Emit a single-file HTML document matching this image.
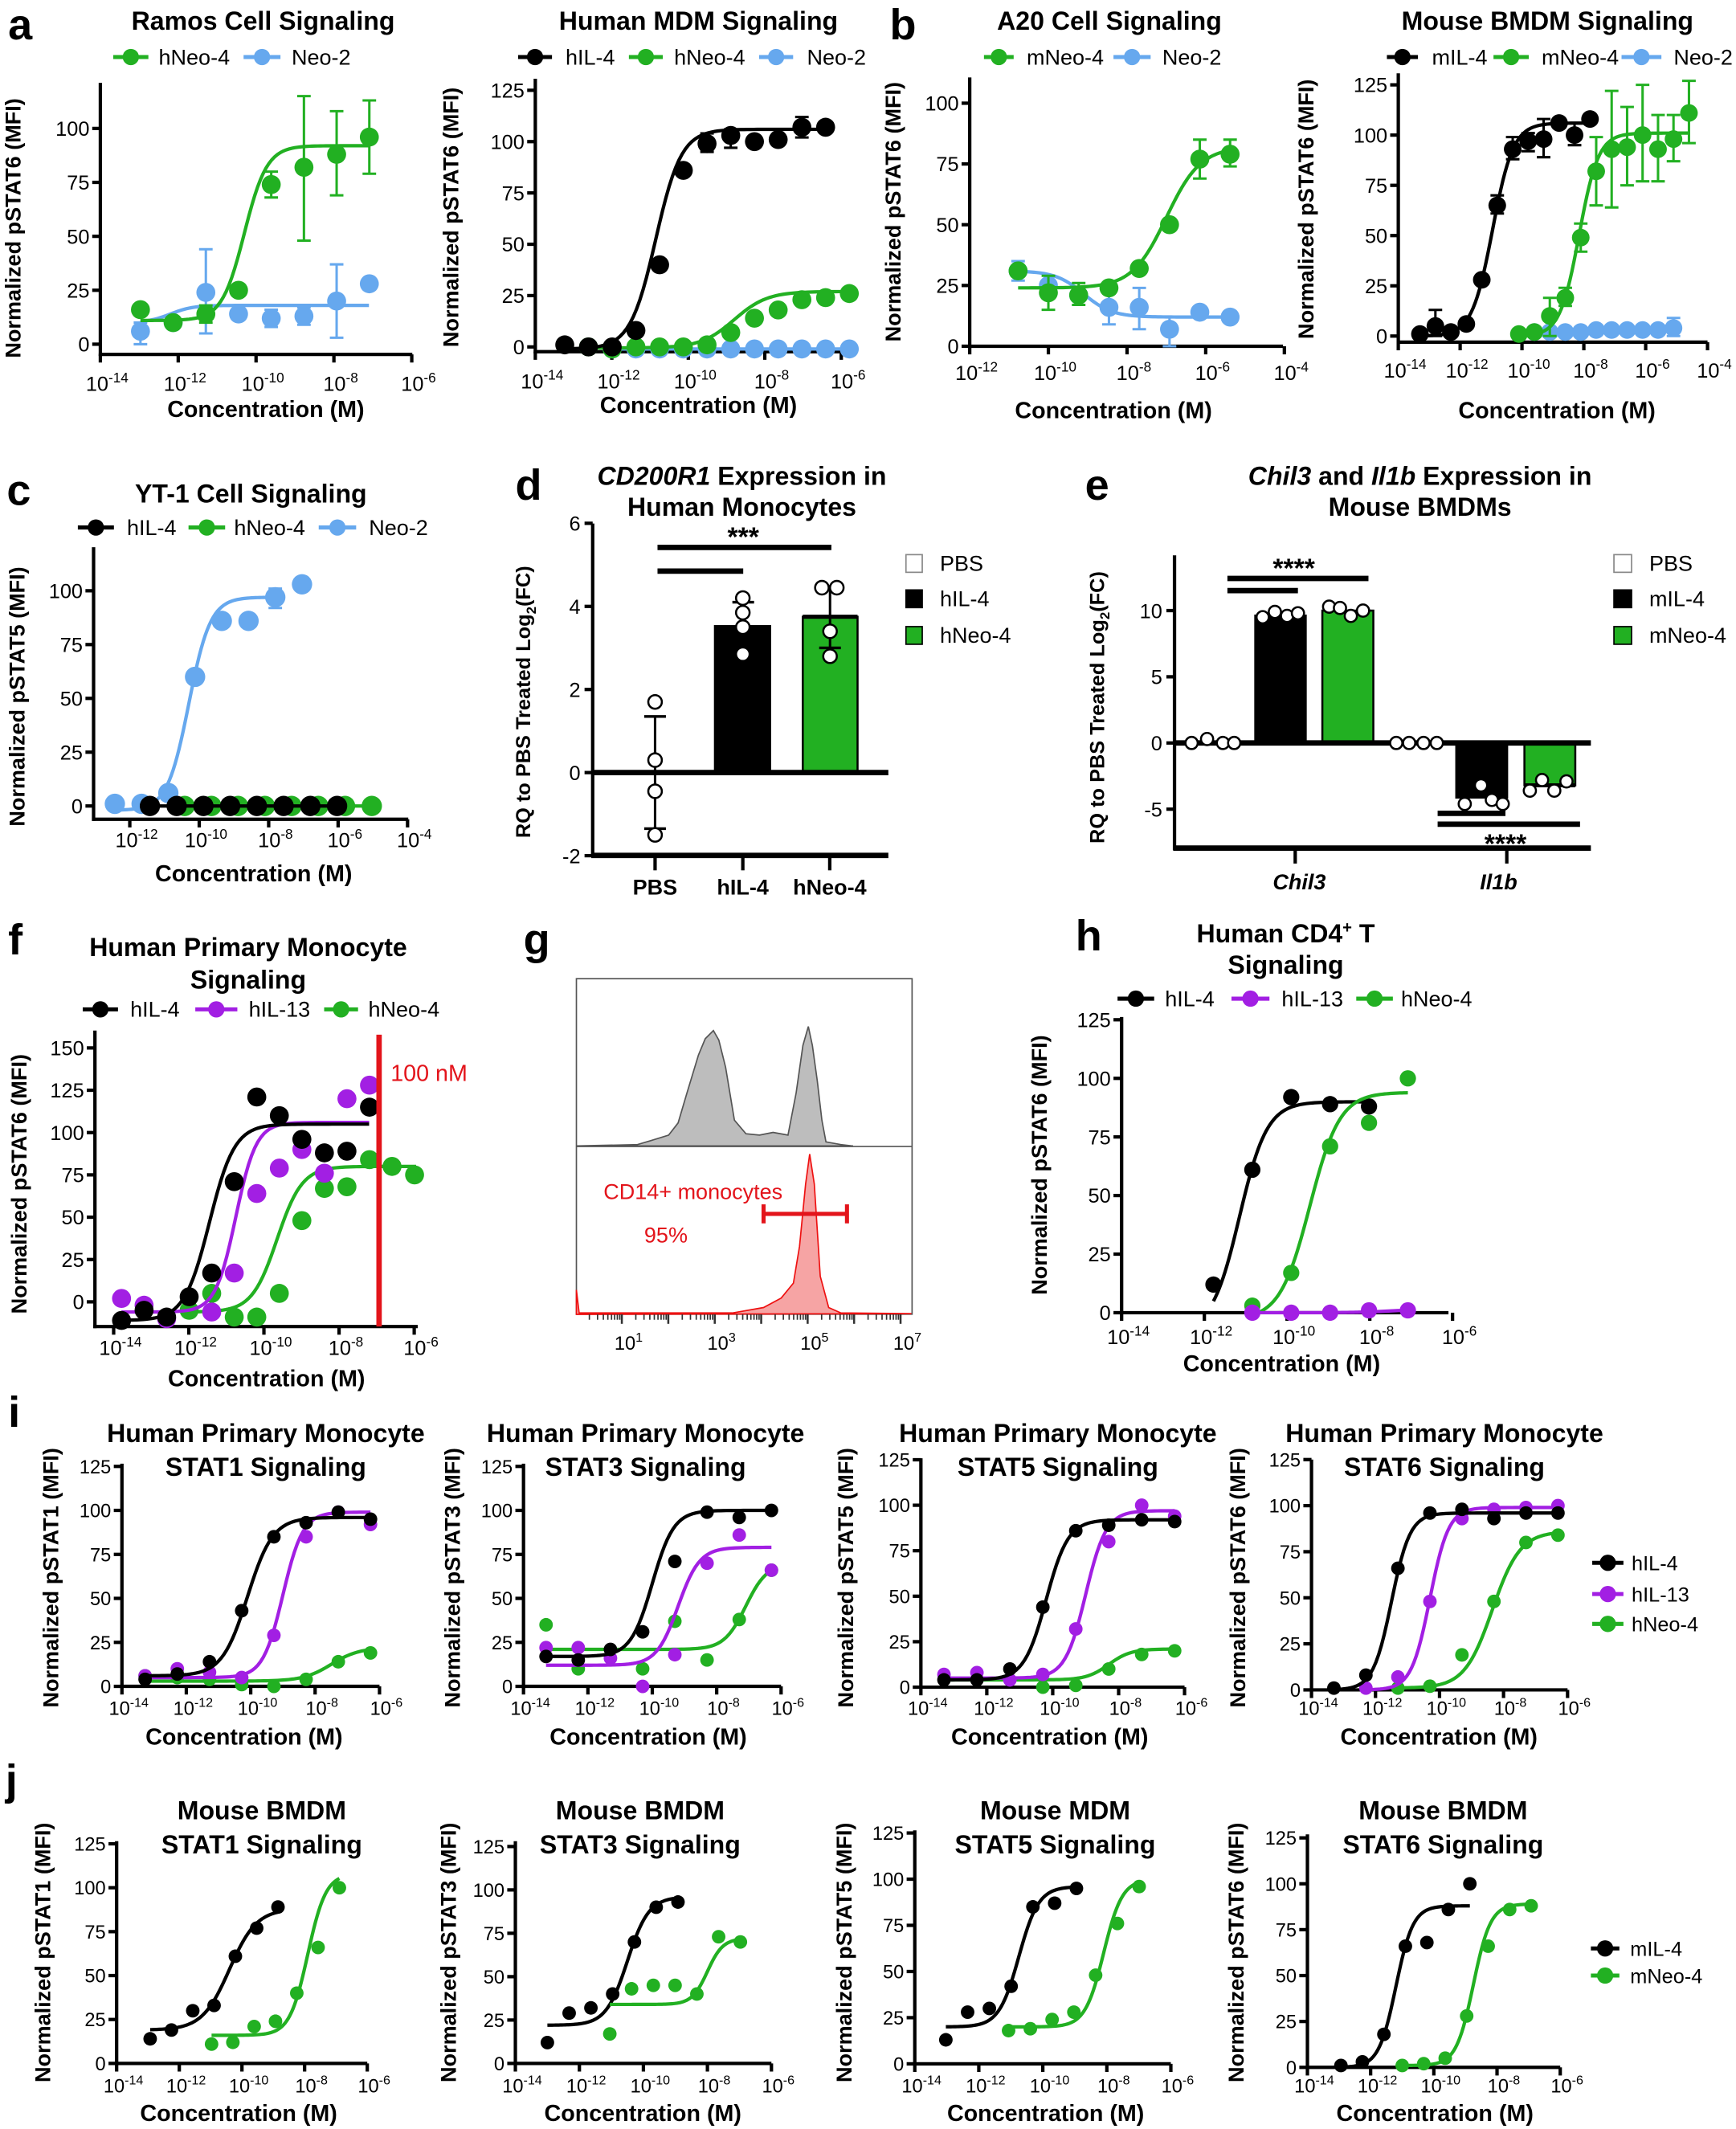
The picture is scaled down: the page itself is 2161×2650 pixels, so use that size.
<!DOCTYPE html>
<html><head><meta charset="utf-8">
<style>html,body{margin:0;padding:0;background:#fff}svg{display:block}text{font-family:"Liberation Sans",Arial,sans-serif}</style>
</head><body>
<svg id="s" xmlns="http://www.w3.org/2000/svg" width="2161" height="2650" viewBox="0 0 1280 1568" preserveAspectRatio="none">
<rect x="0" y="0" width="1280" height="1568" fill="#fff"/>
<g font-weight="bold" font-size="32">
<text x="6" y="29">a</text><text x="656" y="29">b</text><text x="5" y="372">c</text><text x="380" y="368">d</text><text x="800" y="368">e</text><text x="6" y="703">f</text><text x="386" y="703">g</text><text x="793" y="700">h</text><text x="6" y="1051">i</text><text x="4" y="1322">j</text>
</g>
</svg>
<script>
const NS='http://www.w3.org/2000/svg',S=document.getElementById('s');
const G='#22b022',B='#66a8ee',P='#a21fe3',K='#000',R='#e3141b';
function el(t,a,p,tx){const e=document.createElementNS(NS,t);for(const k in a)e.setAttribute(k,a[k]);if(tx!=null)e.textContent=tx;(p||S).appendChild(e);return e;}
function T(x,y,s,o){o=o||{};return el('text',{x:x,y:y,'font-size':o.fs||15,'font-weight':o.b?'bold':'normal','font-style':o.i?'italic':'normal','text-anchor':o.a||'middle',fill:o.c||K},null,s);}
function L(x1,y1,x2,y2,c,w){return el('line',{x1:x1,y1:y1,x2:x2,y2:y2,stroke:c||K,'stroke-width':w||2.5});}
function C(x,y,r,f,st){return el('circle',{cx:x,cy:y,r:r,fill:f,stroke:st||'none','stroke-width':1.5});}
function SUP(x,y,b,e,fs){const t=el('text',{x:x,y:y,'font-size':fs,'text-anchor':'middle'});el('tspan',{},t,b);el('tspan',{dy:-fs*0.42,'font-size':fs*0.68},t,e);return t;}
function YL(x,y,s,fs){const t=el('text',{x:x,y:y,'font-size':fs||16,'font-weight':'bold','text-anchor':'middle',transform:'rotate(-90 '+x+' '+y+')'},null,s);return t;}
function LEG(x1,x2,y,c,lab,tx,fs){L(x1,y,x2,y,c,3);C((x1+x2)/2,y,6,c);T(tx,y+5.5,lab,{fs:fs||16,a:'start'});}
function sig(c,e){return c[0]+(c[1]-c[0])/(1+Math.pow(10,(c[2]-e)*c[3]));}
function plot(p){
 const X=e=>p.X0+(e-p.E0)*p.D,Y=v=>p.Y0-v*p.S;const fs=p.fs||15;
 L(p.ax,p.top,p.ax,p.ay+1.2);L(p.ax-1.2,p.ay,p.right,p.ay);
 for(const e of p.xt){L(X(e),p.ay,X(e),p.ay+6);SUP(X(e)+5,p.tly,'10',String(e),fs);}
 for(const v of p.yt){L(p.ax-6,Y(v),p.ax,Y(v));T(p.ax-8,Y(v)+fs*0.36,String(v),{fs:fs,a:'end'});}
 for(const s of p.ser){
  if(s.cv){let d='';const e1=s.cr[0],e2=s.cr[1];for(let i=0;i<=80;i++){const e=e1+(e2-e1)*i/80;d+=(i?'L':'M')+X(e).toFixed(2)+','+Y(sig(s.cv,e)).toFixed(2);}el('path',{d:d,fill:'none',stroke:s.c,'stroke-width':2.5});}
  s.v.forEach((v,k)=>{if(v==null)return;const e=s.L0+s.dL*(k+(s.k0||0));const x=X(e);
   if(s.err&&s.err[k]){const lo=Y(s.err[k][0]),hi=Y(s.err[k][1]);L(x,lo,x,hi,s.c,1.8);L(x-5,lo,x+5,lo,s.c,1.8);L(x-5,hi,x+5,hi,s.c,1.8);}
   C(x,Y(v),p.r||6,s.c);});
 }
}
const xt14=[-14,-12,-10,-8,-6],y100=[0,25,50,75,100],y125=[0,25,50,75,100,125];
/* a1 Ramos */
T(194,22,'Ramos Cell Signaling',{fs:19,b:1});
LEG(83.5,109.4,42,G,'hNeo-4',117);LEG(179.6,206.8,42,B,'Neo-2',215);
YL(15,168,'Normalized  pSTAT6 (MFI)');T(196,307,'Concentration (M)',{fs:17,b:1});
plot({ax:74,ay:261,top:61,right:304,X0:74,E0:-14,D:28.7,Y0:253.5,S:1.589,xt:xt14,yt:y100,tly:288,r:7,ser:[
 {c:B,cv:[10,18,-12.2,1.5],cr:[-12.97,-7.1],L0:-12.97,dL:0.84,v:[6,10,24,14,12,13,20,28],err:{0:[0,10],2:[5,44],4:[8,16],5:[9,17],6:[3,37]}},
 {c:G,cv:[11,92,-10.3,1.5],cr:[-12.97,-7.1],L0:-12.97,dL:0.84,v:[16,10,14,25,74,82,88,96],err:{2:[10,18],4:[68,80],5:[48,115],6:[69,108],7:[79,113]}}]});
/* a2 MDM */
T(515,22,'Human MDM Signaling',{fs:19,b:1});
LEG(382,407,42,K,'hIL-4',417);LEG(463.7,488.7,42,G,'hNeo-4',497);LEG(559.7,584.8,42,B,'Neo-2',595);
YL(338,160,'Normalized  pSTAT6 (MFI)');T(515,304,'Concentration (M)',{fs:17,b:1});
plot({ax:394.7,ay:259,top:58,right:625,X0:394.7,E0:-14,D:28.2,Y0:255.5,S:1.512,xt:xt14,yt:y125,tly:286,r:7,ser:[
 {c:B,cv:[-1,-1,0,1],cr:[-12,-6.0],L0:-13.23,dL:0.62,k0:2,v:[-1,-1,-1,-1,-1,-1,-1,-1,-1,-1,-1]},
 {c:G,cv:[-0.5,27,-8.8,1.0],cr:[-12.6,-5.97],L0:-13.23,dL:0.62,k0:1,v:[0,-1,0,0,0,1,7,14,18,23,24,26]},
 {c:K,cv:[-1,106,-10.85,1.3],cr:[-13.23,-6.41],L0:-13.23,dL:0.62,v:[1,0,0,8,40,86,99,103,100,101,107,107],err:{6:[95,104],7:[97,106],10:[102,112]}}]});
/* b1 A20 */
T(818,22,'A20 Cell Signaling',{fs:19,b:1});
LEG(725.5,747.4,42,G,'mNeo-4',757);LEG(821,848.4,42,B,'Neo-2',857);
YL(664,156,'Normalized  pSTAT6 (MFI)');T(821,308,'Concentration (M)',{fs:17,b:1});
plot({ax:715,ay:255,top:57,right:946,X0:715,E0:-12,D:29,Y0:255,S:1.79,xt:[-12,-10,-8,-6,-4],yt:y100,tly:280,r:7,ser:[
 {c:B,cv:[31,12,-9.1,1.2],cr:[-10.77,-5.4],L0:-10.77,dL:0.77,v:[31,25,21,16,16,7,14,12],err:{0:[27,35],3:[9,24],4:[7,24],5:[0,12]}},
 {c:G,cv:[24,82,-7.0,1.0],cr:[-10.77,-5.4],L0:-10.77,dL:0.77,v:[31,22,21,24,32,50,77,79],err:{1:[15,29],2:[17,26],6:[69,85],7:[74,85]}}]});
/* b2 Mouse BMDM */
T(1141,22,'Mouse BMDM Signaling',{fs:19,b:1});
LEG(1022.6,1045.5,42,K,'mIL-4',1055.8);LEG(1101.2,1127.2,42,G,'mNeo-4',1136.7);LEG(1195.6,1225,42,B,'Neo-2',1234);
YL(968.5,154,'Normalized  pSTAT6 (MFI)');T(1148,308,'Concentration (M)',{fs:17,b:1});
plot({ax:1031,ay:252,top:54,right:1259,X0:1031,E0:-14,D:22.8,Y0:247.5,S:1.48,xt:[-14,-12,-10,-8,-6,-4],yt:y125,tly:278,r:6.5,ser:[
 {c:B,cv:[2,3,-7,1],cr:[-9.6,-5.1],L0:-9.6,dL:0.5,v:[2,2,2,2,3,3,3,3,3,4],err:{9:[0,9]}},
 {c:G,cv:[0,101,-8.15,1.4],cr:[-10.1,-4.6],L0:-10.1,dL:0.5,v:[1,2,10,19,49,82,93,94,100,93,98,111],err:{2:[0,19],3:[15,24],4:[42,56],5:[65,99],6:[64,122],7:[75,114],8:[77,125],9:[77,110],10:[87,110],11:[96,127]}},
 {c:K,cv:[0,106,-10.95,1.3],cr:[-13.3,-7.8],L0:-13.3,dL:0.5,v:[1,5,2,6,28,65,93,97,98,106,100,108],err:{1:[0,13],5:[61,70],6:[88,99],7:[92,101],8:[89,108],10:[95,106]}}]});
/* c YT-1 */
T(185,370,'YT-1 Cell Signaling',{fs:19,b:1});
LEG(57.4,84,388.5,K,'hIL-4',93.6);LEG(139,166,388.5,G,'hNeo-4',172.6);LEG(235,262.6,388.5,B,'Neo-2',272);
YL(18,513,'Normalized pSTAT5 (MFI)');T(187,649,'Concentration (M)',{fs:17,b:1});
plot({ax:69,ay:603.4,top:403,right:301,X0:95.7,E0:-12,D:25.6,Y0:593.6,S:1.585,xt:[-12,-10,-8,-6,-4],yt:y100,tly:624,r:7.5,ser:[
 {c:B,cv:[-2,97,-10.3,1.4],cr:[-12.43,-7.8],L0:-12.43,dL:0.77,v:[1,1,6,60,86,86,97,103],err:{6:[92,101]}},
 {c:G,cv:[0,0,0,1],cr:[-10.42,-5.0],L0:-10.42,dL:0.77,v:[0,0,0,0,0,0,0,0]},
 {c:K,cv:[0,0,0,1],cr:[-11.42,-6.0],L0:-11.42,dL:0.77,v:[0,0,0,0,0,0,0,0]}]});
/* d */
(function(){const Y=v=>569-v*30.6;
 const t=el('text',{x:547,y:357,'font-size':19,'font-weight':'bold','text-anchor':'middle'});el('tspan',{'font-style':'italic'},t,'CD200R1');el('tspan',{},t,' Expression in');
 T(547,380,'Human Monocytes',{fs:19,b:1});
 L(437,385.6,437,631);L(436,630,655,630,K,4);
 [[6,'6'],[4,'4'],[2,'2'],[0,'0'],[-2,'-2']].forEach(a=>{L(431,Y(a[0]),437,Y(a[0]));T(428,Y(a[0])+5.5,a[1],{fs:15,a:'end'});});
 el('rect',{x:526.4,y:Y(3.55),width:42.2,height:569-Y(3.55),fill:K});
 el('rect',{x:591.9,y:Y(3.75),width:40.4,height:569-Y(3.75),fill:G,stroke:K,'stroke-width':1.5});
 L(591.9,Y(3.75),632.3,Y(3.75),K,3);
 L(437,569,655,569,K,4);
 [483,547.7,611.8].forEach(x=>L(x,630,x,641,K,2.5));
 L(483,Y(1.35),483,Y(-1.35),K,1.8);L(475,Y(1.35),491,Y(1.35),K,2);L(475,Y(-1.35),491,Y(-1.35),K,2);
 L(547.7,Y(3.55),547.7,Y(4.1),K,1.8);L(540,Y(4.1),556,Y(4.1),K,2);
 L(612,Y(4.45),612,Y(3.0),K,1.8);L(604,Y(4.45),620,Y(4.45),K,2);L(604,Y(3.0),620,Y(3.0),K,2);
 [1.7,0.3,-0.45,-1.5].forEach(v=>C(483,Y(v),5,'#fff',K));
 [4.2,3.85,3.5,2.85].forEach(v=>C(547.7,Y(v),5,'#fff',K));
 [[606,4.45],[617,4.45],[612,3.4],[612,2.8]].forEach(a=>C(a[0],Y(a[1]),5,'#fff',K));
 L(484.8,403.2,613,403.2,K,4);L(484.8,420.6,548,420.6,K,4);T(548,402,'***',{fs:20,b:1});
 [[415,'#fff','PBS'],[441,K,'hIL-4'],[468,G,'hNeo-4']].forEach(a=>{el('rect',{x:668,y:a[0]-6.5,width:12,height:13,fill:a[1],stroke:a[1]=='#fff'?'#888':K,'stroke-width':1});T(693,a[0]+5.5,a[2],{fs:16,a:'start'});});
 const yl=el('text',{x:391,y:517,'font-size':15,'font-weight':'bold','text-anchor':'middle',transform:'rotate(-90 391 517)'});el('tspan',{},yl,'RQ to PBS Treated Log');el('tspan',{dy:4,'font-size':10},yl,'2');el('tspan',{dy:-4},yl,'(FC)');
 T(483,659,'PBS',{fs:16,b:1});T(547.7,659,'hIL-4',{fs:16,b:1});T(611.8,659,'hNeo-4',{fs:16,b:1});
})();
/* e */
(function(){const Y=v=>547.2-v*9.75;
 const t=el('text',{x:1047,y:357,'font-size':19,'font-weight':'bold','text-anchor':'middle'});el('tspan',{'font-style':'italic'},t,'Chil3');el('tspan',{},t,' and ');el('tspan',{'font-style':'italic'},t,'Il1b');el('tspan',{},t,' Expression in');
 T(1047,380,'Mouse BMDMs',{fs:19,b:1});
 L(866,409,866,626);L(865,624.6,1173,624.6,K,4);
 [[10,'10'],[5,'5'],[0,'0'],[-5,'-5']].forEach(a=>{L(860,Y(a[0]),866,Y(a[0]));T(857,Y(a[0])+5.5,a[1],{fs:15,a:'end'});});
 el('rect',{x:924.8,y:Y(9.7),width:38.7,height:547.2-Y(9.7),fill:K});
 el('rect',{x:975,y:Y(10),width:37.6,height:547.2-Y(10),fill:G,stroke:K,'stroke-width':1.5});
 el('rect',{x:1073,y:547.2,width:39,height:Y(-4.2)-547.2,fill:K});
 el('rect',{x:1124,y:547.2,width:37.5,height:Y(-3.2)-547.2,fill:G,stroke:K,'stroke-width':1.5});
 L(1124,Y(-3.2),1161.5,Y(-3.2),K,3);
 L(866,547.2,1173,547.2,K,4);
 L(955,624.6,955,636);L(1111,624.6,1111,636);
 [[878.6,0],[890,0.3],[901.7,0],[910,0],[1029.5,0],[1039,0],[1049.6,0],[1059.4,0],[931,9.5],[940,9.9],[949,9.6],[957,9.8],[980,10.3],[988,10.2],[996,9.6],[1005,10.0],[1080,-4.6],[1092,-3.2],[1100,-4.3],[1108,-4.6],[1128,-3.6],[1137,-2.8],[1146,-3.6],[1155,-2.9]].forEach(a=>C(a[0],Y(a[1]),4.5,'#fff',K));
 L(905,426,1009,426,K,4);L(905,435,957,435,K,4);T(954,425,'****',{fs:20,b:1});
 L(1060,599,1110,599,K,4);L(1060,607,1165,607,K,4);T(1110,628,'****',{fs:20,b:1});
 [[415,'#fff','PBS'],[441,K,'mIL-4'],[468,G,'mNeo-4']].forEach(a=>{el('rect',{x:1190,y:a[0]-6.5,width:13,height:13,fill:a[1],stroke:a[1]=='#fff'?'#888':K,'stroke-width':1});T(1216,a[0]+5.5,a[2],{fs:16,a:'start'});});
 const yl=el('text',{x:814,y:521,'font-size':15,'font-weight':'bold','text-anchor':'middle',transform:'rotate(-90 814 521)'});el('tspan',{},yl,'RQ to PBS Treated Log');el('tspan',{dy:4,'font-size':10},yl,'2');el('tspan',{dy:-4},yl,'(FC)');
 T(958,655,'Chil3',{fs:16,b:1,i:1});T(1105,655,'Il1b',{fs:16,b:1,i:1});
})();
/* f */
T(183,704,'Human Primary Monocyte',{fs:19,b:1});T(183,728,'Signaling',{fs:19,b:1});
LEG(61,87,743.4,K,'hIL-4',96);LEG(144,175,743.4,P,'hIL-13',183.4);LEG(239,264,743.4,G,'hNeo-4',271.6);
YL(19.6,872,'Normalized  pSTAT6 (MFI)');T(196.5,1021,'Concentration (M)',{fs:17,b:1});
plot({ax:70,ay:977,top:759,right:308,X0:83.8,E0:-14,D:27.7,Y0:958.8,S:1.2467,xt:xt14,yt:[0,25,50,75,100,125,150],tly:998,r:7,ser:[
 {c:G,cv:[-6,80,-9.65,1.3],cr:[-12.0,-5.95],L0:-13.79,dL:0.6,v:[null,null,null,-5,5,-9,-9,5,48,67,68,84,80,75]},
 {c:P,cv:[-6,106,-10.75,1.6],cr:[-13.79,-7.2],L0:-13.79,dL:0.6,v:[2,-2,-10,null,-6,17,64,79,90,76,120,128]},
 {c:K,cv:[-11,105,-11.45,1.3],cr:[-13.79,-7.2],L0:-13.79,dL:0.6,v:[-11,-5,-9,3,17,71,121,110,96,88,89,115]}]});
L(279.5,762,279.5,977,R,4);T(288,796,'100 nM',{fs:17,a:'start',c:R});
/* g */
el('rect',{x:425,y:720.8,width:247.5,height:247.1,fill:'none',stroke:'#555','stroke-width':1});
L(425,844.4,672.5,844.4,'#555',1);
el('path',{d:'M425,844 L470,843 L480,840 L493,836 L500,827 L506.5,805 L515,777 L520,765 L526,759 L530,766 L535,786 L541.5,825 L550,835 L560,836 L570,834 L581,836 L587,805 L592,770 L596,756 L599,770 L602.6,796 L606,825 L609,841 L620,843 L629,844 Z',fill:'#bdbdbd',stroke:'#555','stroke-width':1});
el('path',{d:'M425,968 L425,950 L427,967 L540,967 L563,963 L576,956 L585,945 L589.5,918 L594,872 L597,850 L600.4,872 L604.8,940 L611,963 L620,967 L672,967.5 Z',fill:'#f6a4a4',stroke:'#e11','stroke-width':1});
L(563,894,624.5,894,R,3);L(563,887,563,901,R,3);L(624.5,887,624.5,901,R,3);
T(511,883,'CD14+ monocytes',{fs:16,c:R});T(491,915,'95%',{fs:16,c:R});
(function(){const X=d=>458.5+(d-1)*34.25;for(let d=0;d<=7;d++){for(let m=1;m<10;m++){const x=X(d+Math.log10(m));if(x<426||x>672)continue;L(x,968,x,m==1?975:972,'#333',m==1?1.5:1);}}
 [[1,'1'],[3,'3'],[5,'5'],[7,'7']].forEach(a=>SUP(X(a[0])+5,994,'10',a[1],14));})();
/* h */
(function(){const t=el('text',{x:948,y:694,'font-size':19,'font-weight':'bold','text-anchor':'middle'});el('tspan',{},t,'Human CD4');el('tspan',{dy:-7,'font-size':12},t,'+');el('tspan',{dy:7},t,' T');})();
T(948,717,'Signaling',{fs:19,b:1});
LEG(824,851,735.5,K,'hIL-4',859);LEG(908,936,735.5,P,'hIL-13',945);LEG(1000,1027,735.5,G,'hNeo-4',1033);
YL(771.7,858,'Normalized  pSTAT6 (MFI)');T(945,1010,'Concentration (M)',{fs:17,b:1});
plot({ax:827,ay:966.8,top:749,right:1068,X0:827,E0:-14,D:30.5,Y0:966.8,S:1.726,xt:xt14,yt:y125,tly:990,r:6,ser:[
 {c:K,cv:[-8,90,-11.15,1.3],cr:[-11.78,-8.02],L0:-11.78,dL:0.94,v:[12,61,92,89,88]},
 {c:G,cv:[-3,94,-9.45,1.2],cr:[-10.84,-7.08],L0:-10.84,dL:0.94,v:[3,17,71,81,100]},
 {c:P,cv:[0,1.5,-7.5,1],cr:[-10.84,-7.08],L0:-10.84,dL:0.94,v:[0,0,0,1,1]}]});
/* row i */
function irow(o){
 T(o.tc,1062,'Human Primary Monocyte',{fs:19,b:1});T(o.tc,1087,o.t2,{fs:19,b:1});
 YL(o.ylx,1162,o.yl,16);T(o.xc,1285,'Concentration (M)',{fs:17,b:1});
 plot({ax:o.ax,ay:o.Y0,top:o.top,right:o.ax+8*o.D,X0:o.ax,E0:-14,D:o.D,Y0:o.Y0,S:o.S,xt:xt14,yt:y125,tly:1263,fs:14,r:5,ser:o.ser});}
irow({tc:196,t2:'STAT1 Signaling',ylx:43,yl:'Normalized  pSTAT1 (MFI)',xc:180,ax:89.9,D:23.74,Y0:1242,S:1.296,top:1078,ser:[
 {c:G,cv:[3,22,-7.5,1.0],cr:[-13.28,-6.28],L0:-13.28,dL:1,v:[6,5,4,1,0,4,14,19]},
 {c:P,cv:[5,99,-9.0,1.4],cr:[-13.28,-6.28],L0:-13.28,dL:1,v:[6,10,8,5,29,85,99,92]},
 {c:K,cv:[6,96,-10.1,1.1],cr:[-13.28,-6.28],L0:-13.28,dL:1,v:[4,7,14,43,85,93,99,95]}]});
irow({tc:476,t2:'STAT3 Signaling',ylx:339,yl:'Normalized  pSTAT3 (MFI)',xc:478,ax:386,D:23.74,Y0:1242,S:1.296,top:1078,ser:[
 {c:G,cv:[21,70,-7.1,1.3],cr:[-13.3,-6.3],L0:-13.3,dL:1,v:[35,10,null,10,37,15,38,66]},
 {c:P,cv:[12,79,-9.2,1.3],cr:[-13.3,-6.3],L0:-13.3,dL:1,v:[22,22,16,0,18,70,86,66]},
 {c:K,cv:[17,100,-10.0,1.3],cr:[-13.3,-6.3],L0:-13.3,dL:1,v:[17,15,21,31,71,99,96,100]}]});
irow({tc:780,t2:'STAT5 Signaling',ylx:629,yl:'Normalized  pSTAT5 (MFI)',xc:774,ax:679,D:24.3,Y0:1242.6,S:1.34,top:1074,ser:[
 {c:G,cv:[4,21,-8.3,1.3],cr:[-13.3,-6.3],L0:-13.3,dL:1,v:[null,null,null,0,1,10,18,20]},
 {c:P,cv:[5,97,-9.0,1.4],cr:[-13.3,-6.3],L0:-13.3,dL:1,v:[7,8,4,7,32,80,100,94]},
 {c:K,cv:[4,92,-10.2,1.3],cr:[-13.3,-6.3],L0:-13.3,dL:1,v:[4,4,10,44,86,89,92,91]}]});
irow({tc:1065,t2:'STAT6 Signaling',ylx:918,yl:'Normalized  pSTAT6 (MFI)',xc:1061,ax:967,D:23.6,Y0:1244.6,S:1.357,top:1075,ser:[
 {c:G,cv:[1,86,-8.35,1.0],cr:[-11.3,-6.3],L0:-13.3,dL:1,v:[null,null,1,2,19,48,80,84]},
 {c:P,cv:[0,99,-10.3,1.5],cr:[-12.3,-6.3],L0:-13.3,dL:1,v:[null,1,7,48,93,98,99,100]},
 {c:K,cv:[0,96,-11.5,1.5],cr:[-13.3,-6.3],L0:-13.3,dL:1,v:[1,8,66,96,98,93,96,96]}]});
LEG(1174,1197,1151,K,'hIL-4',1203,15);LEG(1174,1197,1174,P,'hIL-13',1203,15);LEG(1174,1197,1196,G,'hNeo-4',1203,15);
/* row j */
function jrow(o){
 T(o.tc,1340,o.t1,{fs:19,b:1});T(o.tc,1365,o.t2,{fs:19,b:1});
 YL(o.ylx,1438,o.yl,16);T(o.xc,1562,'Concentration (M)',{fs:17,b:1});
 plot({ax:o.ax,ay:o.Y0,top:o.top,right:o.ax+8*o.D,X0:o.ax,E0:-14,D:o.D,Y0:o.Y0,S:o.S,xt:xt14,yt:y125,tly:1541,fs:14,r:5,ser:o.ser});}
jrow({tc:193,t1:'Mouse BMDM',t2:'STAT1 Signaling',ylx:37,yl:'Normalized  pSTAT1 (MFI)',xc:176,ax:86,D:23.1,Y0:1519.7,S:1.294,top:1356,ser:[
 {c:K,cv:[19,88,-10.4,1.0],cr:[-12.93,-8.85],L0:-12.93,dL:0.68,v:[14,19,30,33,61,77,89]},
 {c:G,cv:[16,108,-7.9,1.5],cr:[-10.97,-6.89],L0:-10.97,dL:0.68,v:[11,12,21,24,40,66,100]}]});
jrow({tc:472,t1:'Mouse BMDM',t2:'STAT3 Signaling',ylx:336,yl:'Normalized  pSTAT3 (MFI)',xc:474,ax:380,D:23.6,Y0:1519.7,S:1.278,top:1356,ser:[
 {c:K,cv:[22,96,-10.5,1.3],cr:[-13,-8.92],L0:-13,dL:0.68,v:[12,29,32,40,70,90,93]},
 {c:G,cv:[34,72,-8.0,1.8],cr:[-11.05,-6.97],L0:-11.05,dL:0.68,v:[17,43,45,45,40,73,70]}]});
jrow({tc:778,t1:'Mouse MDM',t2:'STAT5 Signaling',ylx:628,yl:'Normalized  pSTAT5 (MFI)',xc:771,ax:674.5,D:23.6,Y0:1520,S:1.36,top:1348,ser:[
 {c:K,cv:[20,96,-10.75,1.4],cr:[-13.03,-8.95],L0:-13.03,dL:0.68,v:[13,28,30,42,85,87,95]},
 {c:G,cv:[20,100,-8.1,1.5],cr:[-11.07,-6.99],L0:-11.07,dL:0.68,v:[18,19,24,28,48,76,96]}]});
jrow({tc:1064,t1:'Mouse BMDM',t2:'STAT6 Signaling',ylx:917,yl:'Normalized  pSTAT6 (MFI)',xc:1058,ax:964,D:23.3,Y0:1522.6,S:1.352,top:1351,ser:[
 {c:K,cv:[0,88,-11.2,1.6],cr:[-12.94,-8.86],L0:-12.94,dL:0.68,v:[1,3,18,66,68,86,100]},
 {c:G,cv:[1,89,-8.75,1.6],cr:[-11,-6.92],L0:-11,dL:0.68,v:[1,2,5,28,66,86,88]}]});
LEG(1173,1194,1435,K,'mIL-4',1202,15);LEG(1173,1194,1455,G,'mNeo-4',1202,15);
</script>
</body></html>
